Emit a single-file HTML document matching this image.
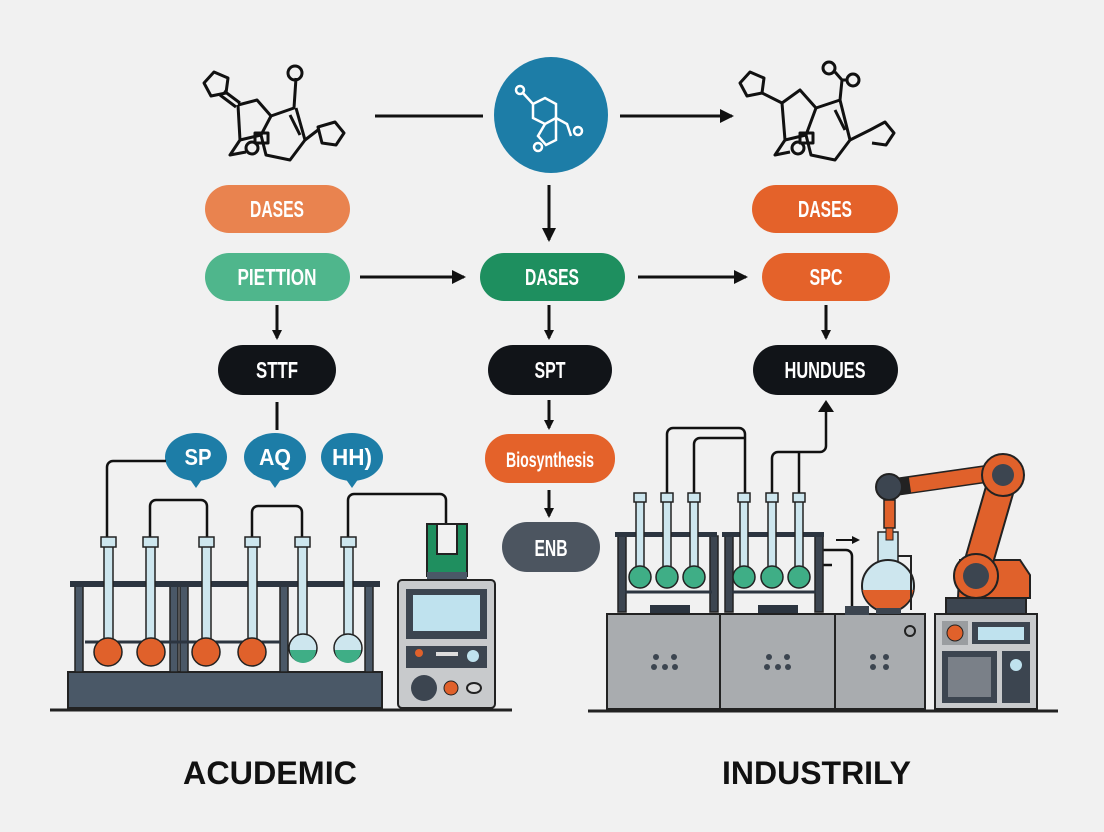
<!DOCTYPE html>
<html><head><meta charset="utf-8"><style>
html,body{margin:0;padding:0;background:#f1f1f1}
svg{display:block}
text{font-family:"Liberation Sans Narrow","Liberation Sans",sans-serif;font-weight:bold}
</style></head><body>
<svg width="1104" height="832" viewBox="0 0 1104 832" xmlns="http://www.w3.org/2000/svg">
<defs>
<marker id="ah" markerWidth="10" markerHeight="10" refX="8" refY="5" orient="auto" markerUnits="userSpaceOnUse"><path d="M0,0 L10,5 L0,10 z" fill="#111"/></marker>
<marker id="ah2" markerWidth="14" markerHeight="14" refX="12" refY="7" orient="auto" markerUnits="userSpaceOnUse"><path d="M0,0 L14,7 L0,14 z" fill="#111"/></marker>
</defs>
<rect width="1104" height="832" fill="#f1f1f1"/>

<!-- left molecule -->
<g fill="none" stroke="#111" stroke-width="3" stroke-linejoin="round">
<polygon points="214,72 228,78 226,93 211,96 204,83"/>
<line x1="224" y1="91" x2="240" y2="103"/><line x1="220" y1="95" x2="236" y2="107"/>
<polyline points="238,105 257,100 271,116 294,108 296,78"/>
<circle cx="295" cy="73" r="7"/>
<polyline points="238,105 240,140 230,155 246,152"/>
<polyline points="240,140 261,135 271,116"/>
<polyline points="261,135 266,155 290,160 305,140 296,108"/>
<line x1="290" y1="115" x2="300" y2="135"/>
<polyline points="305,140 318,130"/>
<polygon points="318,127 335,122 344,133 336,145 322,143"/>
<circle cx="252" cy="148" r="6"/>
<rect x="255" y="133" width="13" height="10"/>
</g>
<!-- right molecule -->
<g fill="none" stroke="#111" stroke-width="3" stroke-linejoin="round">
<polygon points="750,72 764,78 762,93 747,96 740,83"/>
<polyline points="762,93 782,103 800,90 816,108 840,100 842,80"/>
<circle cx="829" cy="68" r="6"/><circle cx="853" cy="80" r="6"/>
<line x1="842" y1="80" x2="835" y2="72"/><line x1="842" y1="80" x2="848" y2="80"/>
<polyline points="782,103 785,140 775,155 790,152"/>
<polyline points="785,140 806,135 816,108"/>
<polyline points="806,135 811,155 835,160 850,140 840,100"/>
<line x1="835" y1="110" x2="845" y2="130"/>
<polyline points="850,140 870,130 885,122 894,133 886,145 872,143"/>
<circle cx="798" cy="148" r="6"/>
<rect x="800" y="133" width="13" height="10"/>
</g>
<!-- top connectors -->
<line x1="375" y1="116" x2="483" y2="116" stroke="#111" stroke-width="3"/>
<line x1="620" y1="116" x2="732" y2="116" stroke="#111" stroke-width="3" marker-end="url(#ah2)"/>
<ellipse cx="551" cy="115" rx="57" ry="58" fill="#1d7da7"/>
<g fill="none" stroke="#fff" stroke-width="2.5">
<polyline points="522,92 533,104 545,98 556,104 556,118 545,124 533,118 533,104"/>
<polyline points="545,124 538,136 546,145 556,140 556,118 567,124 571,136"/>
<circle cx="520" cy="90" r="4"/><circle cx="578" cy="131" r="4"/><circle cx="538" cy="147" r="4"/>
</g>
<line x1="549" y1="185" x2="549" y2="240" stroke="#111" stroke-width="3" marker-end="url(#ah2)"/>

<!-- pills -->
<g font-size="23" text-anchor="middle" fill="#fff" lengthAdjust="spacingAndGlyphs">
<rect x="205" y="185" width="145" height="48" rx="24" fill="#e9834f"/><text x="277" y="217" textLength="54" lengthAdjust="spacingAndGlyphs">DASES</text>
<rect x="205" y="253" width="145" height="48" rx="24" fill="#4fb68c"/><text x="277" y="285" textLength="79" lengthAdjust="spacingAndGlyphs">PIETTION</text>
<rect x="480" y="253" width="145" height="48" rx="24" fill="#1e8f5f"/><text x="552" y="285" textLength="54" lengthAdjust="spacingAndGlyphs">DASES</text>
<rect x="752" y="185" width="146" height="48" rx="24" fill="#e4622a"/><text x="825" y="217" textLength="54" lengthAdjust="spacingAndGlyphs">DASES</text>
<rect x="762" y="253" width="128" height="48" rx="24" fill="#e4622a"/><text x="826" y="285" textLength="33" lengthAdjust="spacingAndGlyphs">SPC</text>
<rect x="218" y="345" width="118" height="50" rx="25" fill="#111418"/><text x="277" y="378" textLength="42" lengthAdjust="spacingAndGlyphs">STTF</text>
<rect x="488" y="345" width="124" height="50" rx="25" fill="#111418"/><text x="550" y="378" textLength="31" lengthAdjust="spacingAndGlyphs">SPT</text>
<rect x="753" y="345" width="145" height="50" rx="25" fill="#111418"/><text x="825" y="378" textLength="81" lengthAdjust="spacingAndGlyphs">HUNDUES</text>
<rect x="485" y="434" width="130" height="49" rx="24" fill="#e4622a"/><text x="550" y="467" font-size="21" textLength="88" lengthAdjust="spacingAndGlyphs">Biosynthesis</text>
<rect x="502" y="522" width="98" height="50" rx="25" fill="#4c5560"/><text x="551" y="556" textLength="33" lengthAdjust="spacingAndGlyphs">ENB</text>
</g>
<g stroke="#111" stroke-width="3" fill="none">
<line x1="360" y1="277" x2="464" y2="277" marker-end="url(#ah2)"/>
<line x1="638" y1="277" x2="746" y2="277" marker-end="url(#ah2)"/>
<line x1="277" y1="305" x2="277" y2="338" marker-end="url(#ah)"/>
<line x1="549" y1="305" x2="549" y2="338" marker-end="url(#ah)"/>
<line x1="826" y1="305" x2="826" y2="338" marker-end="url(#ah)"/>
<line x1="277" y1="402" x2="277" y2="430"/>
<line x1="549" y1="400" x2="549" y2="428" marker-end="url(#ah)"/>
<line x1="549" y1="490" x2="549" y2="516" marker-end="url(#ah)"/>
</g>

<!-- bubbles -->
<g fill="#1d7da7">
<ellipse cx="196" cy="457" rx="31" ry="24"/><polygon points="189,478 203,478 196,488"/>
<ellipse cx="275" cy="457" rx="31" ry="24"/><polygon points="268,478 282,478 275,488"/>
<ellipse cx="352" cy="457" rx="31" ry="24"/><polygon points="345,478 359,478 352,488"/>
</g>
<g font-size="23" text-anchor="middle" fill="#fff">
<text x="198" y="465" textLength="27" lengthAdjust="spacingAndGlyphs">SP</text><text x="275" y="465" textLength="32" lengthAdjust="spacingAndGlyphs">AQ</text><text x="352" y="465" textLength="40" lengthAdjust="spacingAndGlyphs">HH)</text>
</g>

<!-- left apparatus -->
<g stroke="#111" stroke-width="2.5" fill="none">
<path d="M166,461 H113 a6,6 0 0 0 -6,6 V537"/>
<path d="M150,537 V506 a6,6 0 0 1 6,-6 H201 a6,6 0 0 1 6,6 V537"/>
<path d="M252,537 V512 a6,6 0 0 1 6,-6 H296 a6,6 0 0 1 6,6 V537"/>
<path d="M348,537 V500 a6,6 0 0 1 6,-6 H440 a6,6 0 0 1 6,6 V545"/>
</g>
<rect x="68" y="672" width="314" height="36" fill="#4a5867" stroke="#222" stroke-width="2"/>
<g fill="#4a5867" stroke="#222" stroke-width="1.5">
<rect x="75" y="586" width="8" height="86"/><rect x="170" y="586" width="8" height="86"/>
<rect x="180" y="586" width="8" height="86"/><rect x="280" y="586" width="8" height="86"/>
<rect x="365" y="586" width="8" height="86"/>
</g>
<rect x="70" y="581" width="310" height="6" fill="#2c3540"/>
<line x1="85" y1="642" x2="280" y2="642" stroke="#2c3540" stroke-width="3"/>
<g stroke="#222" stroke-width="1.5">
<g fill="#cde6ee">
<rect x="104" y="545" width="9" height="108"/><rect x="146" y="545" width="9" height="108"/><rect x="202" y="545" width="9" height="108"/>
<rect x="248" y="545" width="9" height="108"/><rect x="298" y="545" width="9" height="108"/><rect x="344" y="545" width="9" height="108"/>
<rect x="101" y="537" width="15" height="10"/><rect x="143" y="537" width="15" height="10"/><rect x="199" y="537" width="15" height="10"/>
<rect x="245" y="537" width="15" height="10"/><rect x="295" y="537" width="15" height="10"/><rect x="341" y="537" width="15" height="10"/>
</g>
<circle cx="108" cy="652" r="14" fill="#e0612b"/><circle cx="151" cy="652" r="14" fill="#e0612b"/>
<circle cx="206" cy="652" r="14" fill="#e0612b"/><circle cx="252" cy="652" r="14" fill="#e0612b"/>
<circle cx="303" cy="648" r="14" fill="#cde6ee"/><circle cx="348" cy="648" r="14" fill="#cde6ee"/>
</g>
<path d="M290,650 a13,13 0 0 0 26,0 z" fill="#3fae86"/><path d="M335,650 a13,13 0 0 0 26,0 z" fill="#3fae86"/>
<!-- instrument left -->
<rect x="427" y="524" width="40" height="52" fill="#1f8f5f" stroke="#222" stroke-width="2"/>
<rect x="437" y="524" width="20" height="30" fill="#f1f1f1" stroke="#222" stroke-width="2"/>
<rect x="427" y="572" width="40" height="10" fill="#4a5867"/>
<rect x="398" y="580" width="97" height="128" rx="4" fill="#c8cacc" stroke="#222" stroke-width="2"/>
<rect x="406" y="589" width="81" height="50" fill="#3c4550"/><rect x="413" y="595" width="67" height="36" fill="#bfe2ee"/>
<rect x="406" y="646" width="81" height="22" fill="#3c4550"/>
<circle cx="419" cy="653" r="4" fill="#e0612b"/><circle cx="473" cy="656" r="6" fill="#bfe2ee"/>
<rect x="436" y="652" width="22" height="4" fill="#ddd"/>
<circle cx="424" cy="688" r="13" fill="#3c4550"/><circle cx="451" cy="688" r="7" fill="#e0612b" stroke="#222"/>
<ellipse cx="474" cy="688" rx="7" ry="5" fill="#ddd" stroke="#222" stroke-width="2"/>
<line x1="50" y1="710" x2="512" y2="710" stroke="#222" stroke-width="3"/>

<!-- right apparatus -->
<g stroke="#111" stroke-width="2.5" fill="none">
<path d="M667,494 V434 a6,6 0 0 1 6,-6 H739 a6,6 0 0 1 6,6 V494"/>
<path d="M694,494 V444 a6,6 0 0 1 6,-6 H745"/>
<path d="M772,494 V458 a6,6 0 0 1 6,-6 H820 a6,6 0 0 0 6,-6 V412"/>
<path d="M799,494 V452"/>
<path d="M822,550 H846 a6,6 0 0 1 6,6 V610"/>
<line x1="822" y1="565" x2="832" y2="565"/>
</g>
<polygon points="818,412 834,412 826,400" fill="#111"/>
<line x1="836" y1="540" x2="852" y2="540" stroke="#111" stroke-width="2"/><polygon points="852,536 860,540 852,544" fill="#111"/>
<g fill="#3c4550" stroke="#222" stroke-width="1.5">
<rect x="618" y="536" width="8" height="76"/><rect x="710" y="536" width="8" height="76"/>
<rect x="725" y="536" width="8" height="76"/><rect x="815" y="536" width="8" height="76"/>
</g>
<rect x="615" y="532" width="102" height="5" fill="#2c3540"/><rect x="722" y="532" width="102" height="5" fill="#2c3540"/>
<line x1="625" y1="592" x2="712" y2="592" stroke="#2c3540" stroke-width="3"/><line x1="732" y1="592" x2="816" y2="592" stroke="#2c3540" stroke-width="3"/>
<rect x="650" y="605" width="40" height="8" fill="#2c3540"/><rect x="758" y="605" width="40" height="8" fill="#2c3540"/>
<g stroke="#222" stroke-width="1.5">
<g fill="#cde6ee">
<rect x="636" y="500" width="8" height="70"/><rect x="663" y="500" width="8" height="70"/><rect x="690" y="500" width="8" height="70"/>
<rect x="740" y="500" width="8" height="70"/><rect x="768" y="500" width="8" height="70"/><rect x="795" y="500" width="8" height="70"/>
<rect x="634" y="493" width="12" height="9"/><rect x="661" y="493" width="12" height="9"/><rect x="688" y="493" width="12" height="9"/>
<rect x="738" y="493" width="12" height="9"/><rect x="766" y="493" width="12" height="9"/><rect x="793" y="493" width="12" height="9"/>
</g>
<g fill="#3fae86">
<circle cx="640" cy="577" r="11"/><circle cx="667" cy="577" r="11"/><circle cx="694" cy="577" r="11"/>
<circle cx="744" cy="577" r="11"/><circle cx="772" cy="577" r="11"/><circle cx="799" cy="577" r="11"/>
</g>
</g>
<!-- cabinets -->
<g fill="#a9acaf" stroke="#222" stroke-width="2">
<rect x="607" y="614" width="113" height="95"/><rect x="720" y="614" width="115" height="95"/><rect x="835" y="614" width="90" height="95"/>
</g>
<g fill="#3c4550">
<circle cx="656" cy="657" r="3"/><circle cx="674" cy="657" r="3"/><circle cx="654" cy="667" r="3"/><circle cx="665" cy="667" r="3"/><circle cx="675" cy="667" r="3"/>
<circle cx="769" cy="657" r="3"/><circle cx="787" cy="657" r="3"/><circle cx="767" cy="667" r="3"/><circle cx="778" cy="667" r="3"/><circle cx="788" cy="667" r="3"/>
<circle cx="873" cy="657" r="3"/><circle cx="886" cy="657" r="3"/><circle cx="873" cy="667" r="3"/><circle cx="886" cy="667" r="3"/>
</g>
<circle cx="910" cy="631" r="5" fill="#a9acaf" stroke="#222" stroke-width="2"/>
<rect x="845" y="606" width="24" height="9" fill="#3c4550"/>
<!-- flask -->
<rect x="878" y="532" width="20" height="30" fill="#cde6ee" stroke="#222" stroke-width="1.5"/>
<circle cx="888" cy="586" r="26" fill="#cde6ee" stroke="#222" stroke-width="2"/>
<path d="M862.5,590 a26,26 0 0 0 51,0 z" fill="#e0612b"/>
<rect x="876" y="608" width="25" height="6" fill="#3c4550"/>
<path d="M898,556 H911 V610" stroke="#222" stroke-width="2" fill="none"/>
<!-- robot -->
<rect x="946" y="598" width="80" height="16" fill="#3c4550" stroke="#222" stroke-width="2"/>
<path d="M960,560 L1020,560 L1030,575 L1030,598 L958,598 z" fill="#e0612b" stroke="#222" stroke-width="2"/>
<line x1="975" y1="575" x2="1003" y2="478" stroke="#222" stroke-width="30" stroke-linecap="round"/>
<line x1="975" y1="575" x2="1003" y2="478" stroke="#e0612b" stroke-width="26" stroke-linecap="round"/>
<line x1="895" y1="487" x2="1000" y2="472" stroke="#222" stroke-width="18"/>
<line x1="910" y1="485" x2="1000" y2="472" stroke="#e0612b" stroke-width="15"/>
<circle cx="1003" cy="475" r="21" fill="#e0612b" stroke="#222" stroke-width="2"/><circle cx="1003" cy="475" r="11" fill="#3c4550"/>
<circle cx="976" cy="576" r="22" fill="#e0612b" stroke="#222" stroke-width="2"/><circle cx="976" cy="576" r="13" fill="#3c4550"/>
<circle cx="889" cy="487" r="13" fill="#3c4550" stroke="#222" stroke-width="2"/>
<rect x="884" y="500" width="11" height="28" fill="#e0612b" stroke="#222" stroke-width="1.5"/>
<rect x="886" y="528" width="7" height="12" fill="#e0612b" stroke="#222" stroke-width="1"/>
<!-- control panel -->
<rect x="935" y="614" width="102" height="95" fill="#c8cacc" stroke="#222" stroke-width="2"/>
<rect x="942" y="621" width="26" height="24" fill="#9a9da0"/><circle cx="955" cy="633" r="8" fill="#e0612b" stroke="#222"/>
<rect x="972" y="622" width="58" height="22" fill="#3c4550"/><rect x="978" y="627" width="46" height="13" fill="#bfe2ee"/>
<rect x="942" y="651" width="55" height="52" fill="#3c4550"/><rect x="948" y="657" width="43" height="40" fill="#7a8088"/>
<rect x="1002" y="651" width="28" height="52" fill="#3c4550"/><circle cx="1016" cy="665" r="6" fill="#bfe2ee"/>
<line x1="588" y1="711" x2="1058" y2="711" stroke="#222" stroke-width="3"/>

<!-- labels -->
<text x="183" y="784" font-size="32" fill="#111" textLength="174" lengthAdjust="spacingAndGlyphs">ACUDEMIC</text>
<text x="722" y="784" font-size="32" fill="#111" textLength="189" lengthAdjust="spacingAndGlyphs">INDUSTRILY</text>
</svg>
</body></html>
